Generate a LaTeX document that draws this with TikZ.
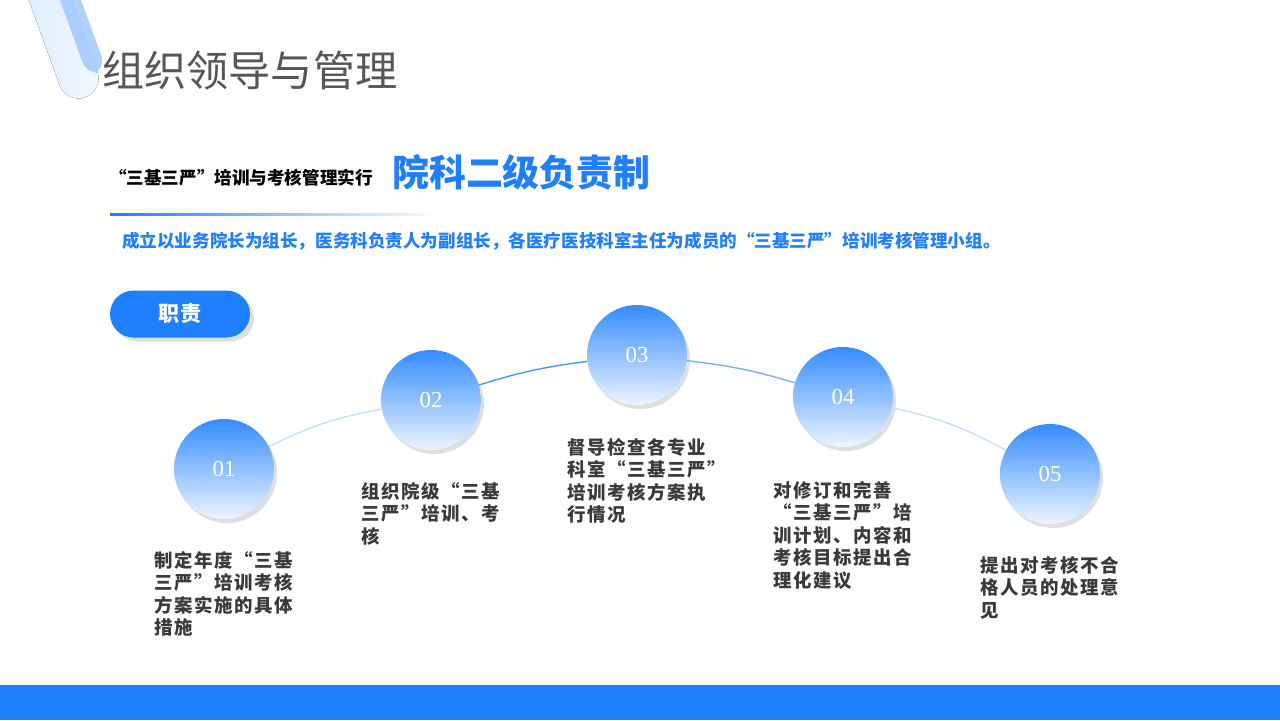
\documentclass[tikz,border=0pt]{standalone}
\usepackage{fontspec}
\setmainfont{Liberation Serif}
\newfontfamily\cjk{Noto Sans CJK SC}
\newfontfamily\cjkwide[LetterSpace=9]{Noto Sans CJK SC}
\usetikzlibrary{positioning}
\usetikzlibrary{shadows}
\definecolor{mainblue}{HTML}{1E7FFF}
\definecolor{txtgray}{HTML}{3A3A3A}
\tikzset{
    stepcircle/.style = {circle, minimum size=2cm, top color=mainblue!90, bottom color=mainblue!8,
        draw=none, text=white, font=\fontsize{13}{13}\selectfont,
        drop shadow={shadow xshift=0.06cm, shadow yshift=-0.08cm, fill=black!25}},
    steptext/.style = {text width=3.2cm, align=left, text=txtgray,
        font=\cjkwide\bfseries\fontsize{10.5}{12.8}\selectfont, anchor=north west},
    arcline/.style = {thick, mainblue!#1}
}
\begin{document}
\begin{tikzpicture}[x=0.02cm, y=-0.02cm]
\useasboundingbox (0,0) rectangle (1280,720);
% decoration
\fill[rotate around={20:(70,55)}, rounded corners=0.4cm, left color=mainblue!15, right color=mainblue!5]
    (50,-40) rectangle (90,100);
\fill[rotate around={20:(85,40)}, rounded corners=0.3cm, mainblue!45, opacity=0.8]
    (75,-20) rectangle (95,75);
% title
\node[anchor=west, text=txtgray!85, font=\cjk\fontsize{24}{24}\selectfont] (title) at (96,70) {组织领导与管理};
\node[anchor=west, text=black, font=\cjk\bfseries\fontsize{10}{10}\selectfont] (sub) at (103,178) {“三基三严”培训与考核管理实行};
\node[anchor=west, text=mainblue, font=\cjk\bfseries\fontsize{21}{21}\selectfont] (sys) at (386,172) {院科二级负责制};
\shade[left color=mainblue, right color=white] (110,213) rectangle (440,215);
\node[anchor=west, text=mainblue, font=\cjk\bfseries\fontsize{10}{10}\selectfont] (desc) at (116,241)
    {成立以业务院长为组长，医务科负责人为副组长，各医疗医技科室主任为成员的“三基三严”培训考核管理小组。};
% duty button
\node[rounded corners=0.47cm, fill=mainblue, minimum width=2.8cm, minimum height=0.94cm,
    text=white, font=\cjk\bfseries\fontsize{12}{12}\selectfont,
    drop shadow={shadow xshift=0.08cm, shadow yshift=-0.08cm, fill=black!25}] (duty) at (180,314) {职责};
% circles
\node[stepcircle] (c1) at (224,469) {01};
\node[stepcircle] (c2) at (431,400) {02};
\node[stepcircle] (c3) at (637,355) {03};
\node[stepcircle] (c4) at (843,397) {04};
\node[stepcircle] (c5) at (1050,474) {05};
%
\draw[arcline=25] (c1) to[bend left=8] (c2);
\draw[arcline=80] (c2) to[bend left=5] (c3);
\draw[arcline=60] (c3) to[bend left=5] (c4);
\draw[arcline=25] (c4) to[bend left=8] (c5);
% texts
\node[steptext] (t1) at (148,545) {制定年度“三基\\三严”培训考核\\方案实施的具体\\措施};
\node[steptext] (t2) at (355,476) {组织院级“三基\\三严”培训、考\\核};
\node[steptext] (t3) at (561,432) {督导检查各专业\\科室“三基三严”\\培训考核方案执\\行情况};
\node[steptext] (t4) at (767,475) {对修订和完善\\“三基三严”培\\训计划、内容和\\考核目标提出合\\理化建议};
\node[steptext] (t5) at (974,550) {提出对考核不合\\格人员的处理意\\见};
% bottom bar
\fill[mainblue] (0,685) rectangle (1280,720);
\end{tikzpicture}
\end{document}
